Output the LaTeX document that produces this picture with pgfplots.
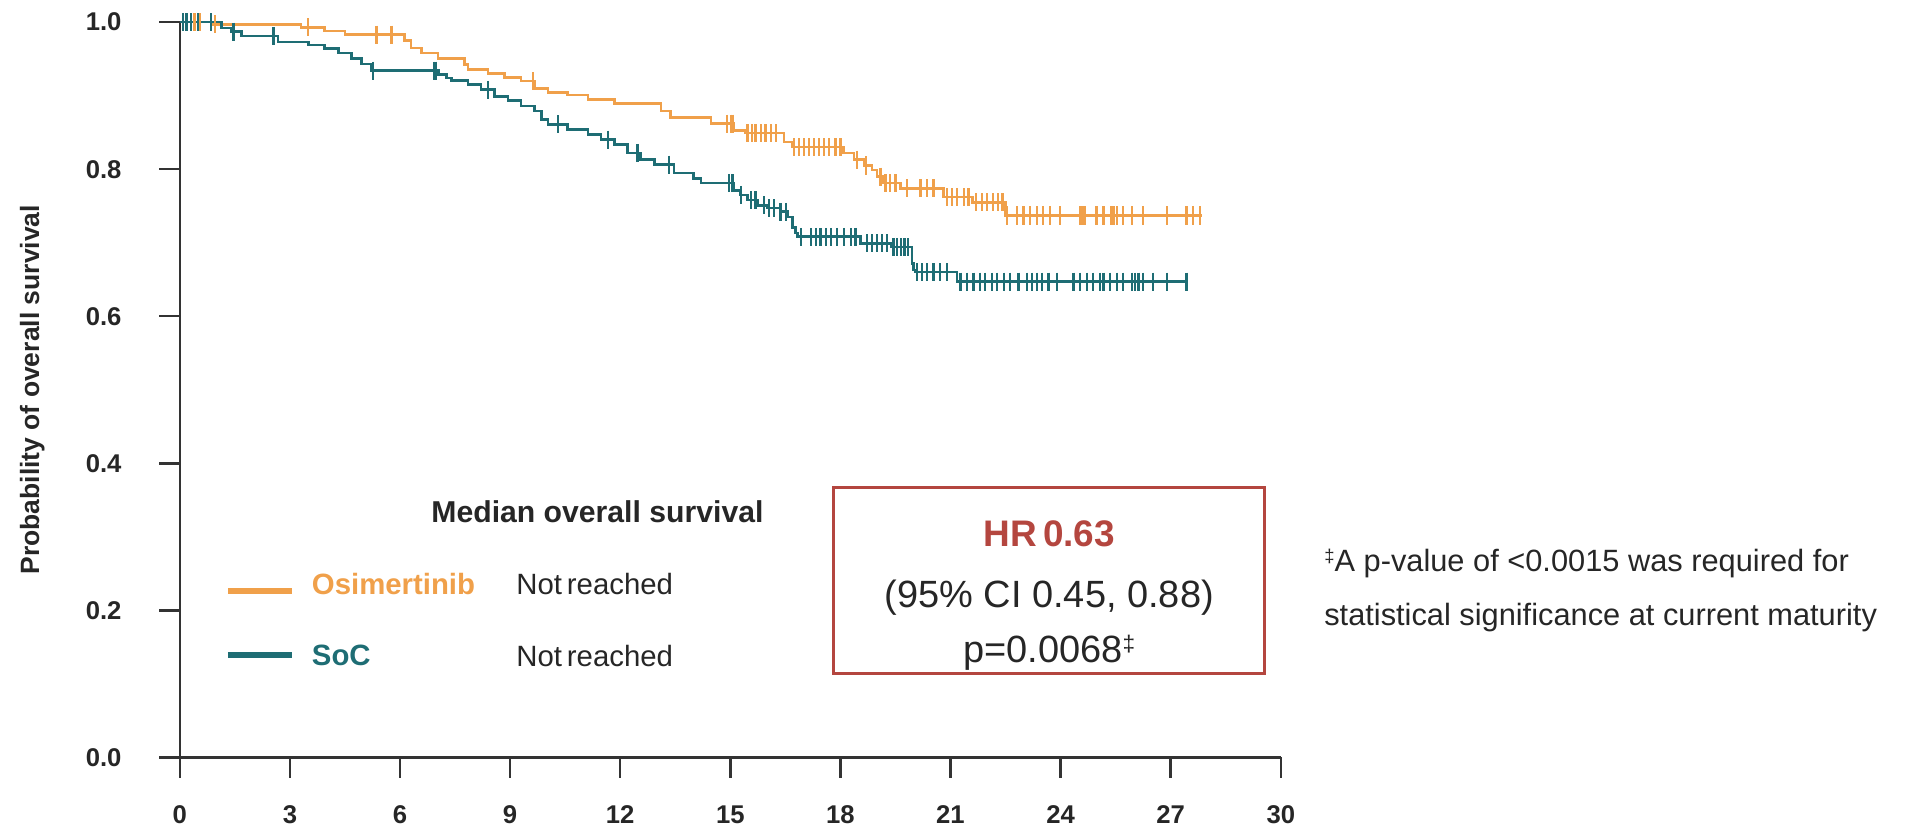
\documentclass[border=0pt]{standalone}
\usepackage{fontspec}
\setmainfont{Liberation Sans}
\usepackage{pgfplots}
\usepackage{pgfplotstable}
\pgfplotsset{compat=1.18}

\definecolor{osiorange}{HTML}{F0A04A}
\definecolor{socteal}{HTML}{1E6D74}
\definecolor{hrred}{HTML}{B4463F}
\definecolor{axisgray}{HTML}{333333}
\definecolor{txt}{HTML}{262626}

% Kaplan-Meier step functions (months, survival probability)
\pgfplotstableread{
t s
0     1.000
0.90  0.997
3.30  0.993
3.95  0.988
4.50  0.983
6.13  0.975
6.30  0.965
6.58  0.958
7.04  0.951
7.76  0.942
7.85  0.936
8.40  0.930
8.85  0.925
9.30  0.920
9.66  0.910
10.03 0.904
10.57 0.901
11.12 0.895
11.84 0.889
13.11 0.879
13.38 0.870
14.47 0.862
15.10 0.853
15.40 0.849
16.46 0.837
16.69 0.830
18.09 0.822
18.37 0.813
18.64 0.805
18.86 0.799
19.00 0.790
19.14 0.781
19.64 0.774
20.81 0.762
21.60 0.755
22.50 0.737
27.84 0.737
}\osicurve

\pgfplotstableread{
t s
0     1.000
1.14  0.992
1.41  0.987
1.69  0.981
2.68  0.973
3.50  0.969
3.95  0.964
4.32  0.958
4.68  0.951
4.95  0.943
5.22  0.934
7.05  0.929
7.26  0.924
7.40  0.921
7.85  0.915
8.21  0.908
8.58  0.899
8.94  0.893
9.30  0.886
9.66  0.879
9.85  0.868
10.03 0.861
10.57 0.854
11.12 0.847
11.48 0.840
11.84 0.834
12.20 0.822
12.56 0.813
12.93 0.806
13.47 0.795
14.00 0.787
14.20 0.781
15.10 0.771
15.28 0.765
15.47 0.758
15.74 0.751
16.00 0.747
16.37 0.742
16.55 0.735
16.69 0.721
16.78 0.713
16.83 0.708
18.55 0.699
19.40 0.694
19.95 0.672
20.00 0.663
20.05 0.660
21.18 0.647
27.43 0.647
}\soccurve

% censored observations
\pgfplotstableread{
t s
0.20 1.000
0.40 1.000
0.55 1.000
0.95 0.997
3.50 0.993
5.36 0.983
5.77 0.983
9.62 0.920
14.92 0.862
15.01 0.862
15.06 0.862
15.47 0.849
15.60 0.849
15.69 0.849
15.83 0.849
15.96 0.849
16.10 0.849
16.24 0.849
16.73 0.830
16.87 0.830
17.01 0.830
17.14 0.830
17.28 0.830
17.41 0.830
17.55 0.830
17.69 0.830
17.87 0.830
18.00 0.830
18.46 0.813
18.70 0.805
19.09 0.790
19.23 0.781
19.36 0.781
19.50 0.781
19.82 0.774
20.18 0.774
20.36 0.774
20.54 0.774
20.90 0.762
21.04 0.762
21.18 0.762
21.36 0.762
21.49 0.762
21.70 0.755
21.85 0.755
22.00 0.755
22.15 0.755
22.30 0.755
22.42 0.755
22.54 0.737
22.81 0.737
22.99 0.737
23.17 0.737
23.35 0.737
23.53 0.737
23.71 0.737
23.99 0.737
24.53 0.737
24.60 0.737
24.67 0.737
24.98 0.737
25.17 0.737
25.39 0.737
25.45 0.737
25.53 0.737
25.71 0.737
25.94 0.737
26.25 0.737
26.89 0.737
27.43 0.737
27.61 0.737
27.79 0.737
}\osicens

\pgfplotstableread{
t s
0.08 1.000
0.18 1.000
0.30 1.000
0.50 1.000
0.85 1.000
1.46 0.987
2.55 0.981
5.27 0.934
6.92 0.934
6.98 0.934
8.39 0.908
10.30 0.861
11.66 0.840
12.47 0.822
13.34 0.806
14.97 0.781
15.06 0.781
15.30 0.765
15.56 0.758
15.69 0.758
15.92 0.751
16.05 0.747
16.19 0.747
16.37 0.742
16.51 0.742
16.92 0.708
17.19 0.708
17.33 0.708
17.46 0.708
17.60 0.708
17.74 0.708
17.91 0.708
18.09 0.708
18.28 0.708
18.41 0.708
18.73 0.699
18.87 0.699
19.00 0.699
19.14 0.699
19.27 0.699
19.45 0.694
19.55 0.694
19.65 0.694
19.75 0.694
19.85 0.694
20.09 0.660
20.23 0.660
20.36 0.660
20.54 0.660
20.72 0.660
20.90 0.660
21.27 0.647
21.45 0.647
21.63 0.647
21.81 0.647
21.95 0.647
22.13 0.647
22.27 0.647
22.45 0.647
22.63 0.647
22.85 0.647
23.08 0.647
23.22 0.647
23.35 0.647
23.49 0.647
23.67 0.647
23.90 0.647
24.35 0.647
24.53 0.647
24.71 0.647
24.89 0.647
25.08 0.647
25.17 0.647
25.35 0.647
25.53 0.647
25.71 0.647
25.94 0.647
26.03 0.647
26.12 0.647
26.25 0.647
26.52 0.647
26.89 0.647
27.43 0.647
}\soccens

\begin{document}
\begin{tikzpicture}
\useasboundingbox (0,0) rectangle (940.8pt,405.6pt);

\begin{axis}[
  at={(87.6pt,36.6pt)}, anchor=south west,
  scale only axis, width=536.4pt, height=358.2pt,
  xmin=0, xmax=30, ymin=0, ymax=1,
  axis x line*=bottom, axis y line*=left,
  axis line style={axisgray, line width=1.2pt},
  tick style={axisgray, line width=1.2pt},
  major tick length=10pt, tick align=outside,
  xtick={0,3,...,30},
  xticklabels={0,3,6,9,12,15,18,21,24,27,30},
  ytick={0,0.2,0.4,0.6,0.8,1},
  yticklabels={0.0,0.2,0.4,0.6,0.8,1.0},
  ticklabel style={font=\fontsize{12.5}{15}\selectfont\bfseries, text=txt},
  xticklabel style={anchor=north, inner sep=0pt, yshift=-13.4pt},
  yticklabel style={anchor=east, inner sep=0pt, xshift=-18.2pt},
  ylabel={Probability of overall survival},
  ylabel style={at={(axis description cs:-0.134,0.5)}, anchor=center,
    font=\fontsize{12.9}{15}\selectfont\bfseries, text=txt},
  clip=false,
]
\addplot[const plot, osiorange, line width=1.3pt] table[x=t,y=s]{\osicurve};
\addplot[const plot, socteal, line width=1.3pt] table[x=t,y=s]{\soccurve};
\addplot[only marks, mark=|, mark size=4.4pt, osiorange,
  mark options={line width=1.1pt}] table[x=t,y=s]{\osicens};
\addplot[only marks, mark=|, mark size=4.4pt, socteal,
  mark options={line width=1.1pt}] table[x=t,y=s]{\soccens};
\end{axis}

\begin{scope}[x=0.6pt, y=-0.6pt, shift={(0pt,405.6pt)}]
  % legend
  \node[anchor=base west, inner sep=0pt, text=txt,
    font=\fontsize{14.7}{17}\selectfont\bfseries] at (350,424) {Median overall survival};
  \draw[osiorange, line width=2.6pt] (185,480) -- (237,480);
  \draw[socteal, line width=2.6pt] (185,532) -- (237,532);
  \node[anchor=base west, inner sep=0pt, text=osiorange,
    font=\fontsize{14.3}{17}\selectfont\bfseries] at (253,483) {Osimertinib};
  \node[anchor=base west, inner sep=0pt, text=socteal,
    font=\fontsize{14.3}{17}\selectfont\bfseries] at (253,540) {SoC};
  \node[anchor=base west, inner sep=0pt, text=txt,
    font=\fontsize{14.3}{17}\selectfont] at (419,483) {Not\,reached};
  \node[anchor=base west, inner sep=0pt, text=txt,
    font=\fontsize{14.3}{17}\selectfont] at (419,541) {Not\,reached};
  % hazard ratio box
  \draw[hrred, line width=1.6pt] (677,396) rectangle (1027,547);
  \node[anchor=base, inner sep=0pt, text=hrred,
    font=\fontsize{18}{21}\selectfont\bfseries] at (852,444) {HR\,0.63};
  \node[anchor=base, inner sep=0pt, text=txt,
    font=\fontsize{18.5}{21}\selectfont] at (852,493) {(95\% CI 0.45, 0.88)};
  \node[anchor=base, inner sep=0pt, text=txt,
    font=\fontsize{18.5}{21}\selectfont] at (852,538)
    {p=0.0068\raisebox{0.3em}{\fontsize{11}{11}\selectfont ‡}};
  % footnote
  \node[anchor=base west, inner sep=0pt, text=txt,
    font=\fontsize{15}{18}\selectfont] at (1075,464)
    {\raisebox{0.3em}{\fontsize{9}{9}\selectfont ‡}A p-value of <0.0015 was required for};
  \node[anchor=base west, inner sep=0pt, text=txt,
    font=\fontsize{15}{18}\selectfont] at (1075,508)
    {statistical significance at current maturity};
\end{scope}
\end{tikzpicture}
\end{document}
